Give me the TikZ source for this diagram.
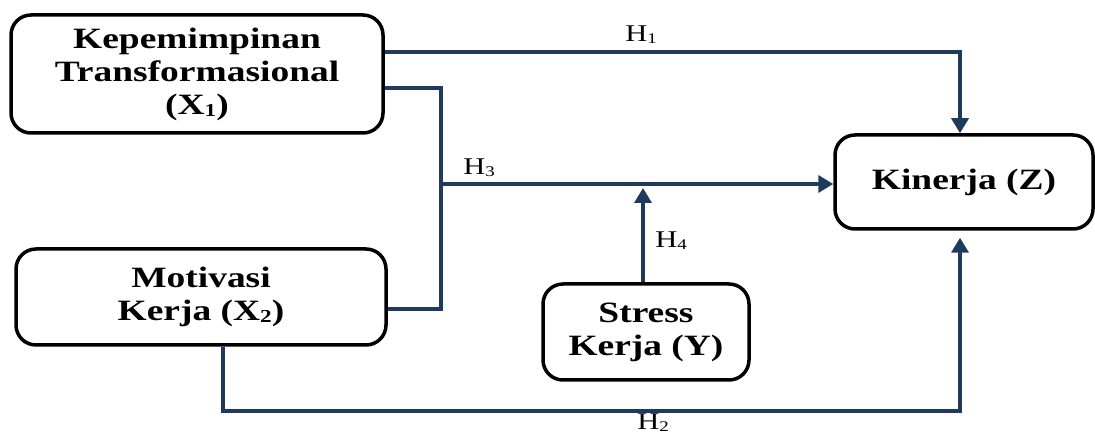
\documentclass[tikz,border=0pt]{standalone}
\usepackage{fontspec}
\setmainfont{Liberation Serif}[FakeStretch=1.27]
\usetikzlibrary{arrows.meta}
\definecolor{navy}{HTML}{1F3A5C}
\newcommand\sdig[1]{\raisebox{-0.08em}{\scalebox{0.62}{#1}}}
\begin{document}
\begin{tikzpicture}[x=1pt,y=-1pt,
  varbox/.style={draw=black,line width=3.5pt,rounded corners=20pt,align=center,
    font=\fontsize{29.5}{33}\selectfont\bfseries,inner sep=0pt},
  link/.style={draw=navy,line width=3.5pt},
  arr/.style={link,-{Triangle[width=17pt,length=15pt]}},
  hyp/.style={font=\fontsize{24}{26}\selectfont,text=black,inner sep=0pt}]
\useasboundingbox (0,0) rectangle (1095,435);

% variables
\node[varbox,minimum width=372pt,minimum height=118pt] (X1) at (197,74)
  {Kepemimpinan\\Transformasional\\(X\sdig{1})};
\node[varbox,minimum width=370pt,minimum height=96pt] (X2) at (201,297)
  {Motivasi\\Kerja (X\sdig{2})};
\node[varbox,minimum width=206pt,minimum height=96pt] (Y) at (646,332)
  {Stress\\Kerja (Y)};
\node[varbox,minimum width=258pt,minimum height=94pt] (Z) at (964,182)
  {Kinerja (Z)};

% routing points
\coordinate (h1) at (960,52);
\coordinate (j) at (441,184);
\coordinate (h2) at (960,411);
\coordinate (h4) at (643,188);

% H1: X1 -> Z
\draw[arr] (X1.east |- h1) -- (h1) -- (h1 |- Z.north);
% X1 and X2 join, H3 -> Z
\draw[link] (X1.east |- 0,88) -| (j) |- (X2.east |- 0,309);
\draw[arr] (j) -- (Z.west |- j);
% H4: Y -> H3 path
\draw[arr] (h4 |- Y.north) -- (h4);
% H2: X2 -> Z
\draw[arr,shorten >=7pt] (X2.south -| 223,0) |- (h2) -- (h2 |- Z.south);

% hypothesis labels
\node[hyp] (l1) at (641,35) {H\sdig{1}};
\node[hyp] (l3) at (479,168) {H\sdig{3}};
\node[hyp] (l4) at (671,241) {H\sdig{4}};
\node[hyp] (l2) at (653,423) {H\sdig{2}};
\end{tikzpicture}
\end{document}
